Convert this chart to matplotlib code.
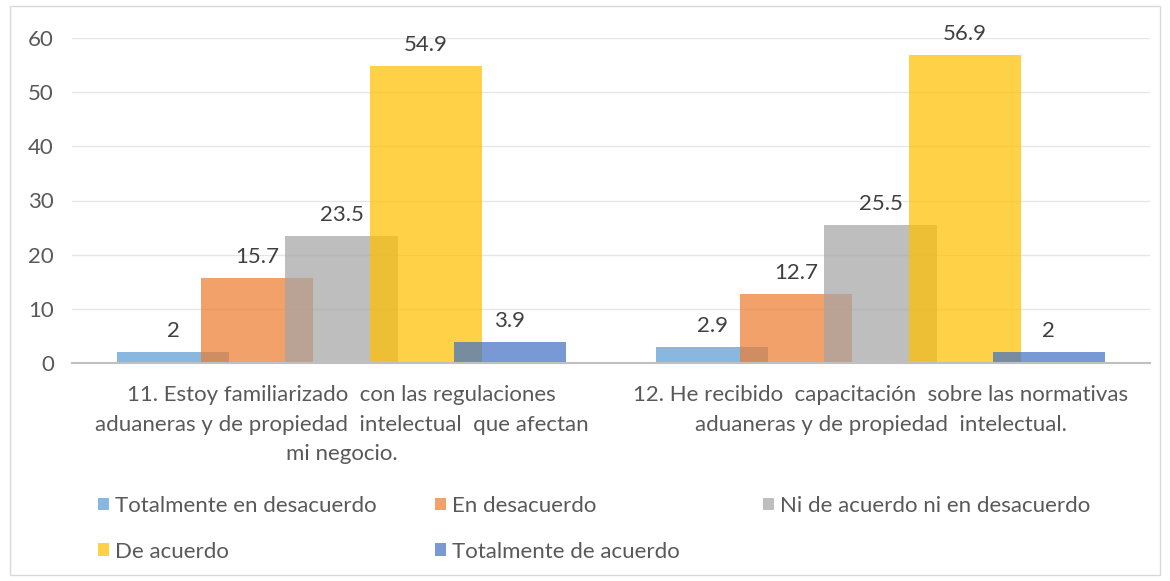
import matplotlib
matplotlib.use("Agg")
import matplotlib.pyplot as plt
from matplotlib.patches import Rectangle
import numpy as np

categories = [
    "11. Estoy familiarizado  con las regulaciones\naduaneras y de propiedad  intelectual  que afectan\nmi negocio.",
    "12. He recibido  capacitación  sobre las normativas\naduaneras y de propiedad  intelectual.",
]
series_names = ["Totalmente en desacuerdo", "En desacuerdo", "Ni de acuerdo ni en desacuerdo",
                "De acuerdo", "Totalmente de acuerdo"]
tot_desacuerdo = [2, 2.9]
en_desacuerdo = [15.7, 12.7]
neutral = [23.5, 25.5]
de_acuerdo = [54.9, 56.9]
tot_acuerdo = [3.9, 2]
labels_vals = [["2", "2.9"], ["15.7", "12.7"], ["23.5", "25.5"], ["54.9", "56.9"], ["3.9", "2"]]
yticks = [0, 10, 20, 30, 40, 50, 60]

colors = ["#5B9BD5", "#ED7D31", "#A5A5A5", "#FFC000", "#4472C4"]
series = [tot_desacuerdo, en_desacuerdo, neutral, de_acuerdo, tot_acuerdo]

plt.rcParams['font.family'] = ['Lato', 'DejaVu Sans']
txt = "#595959"
FS = 16

fig = plt.figure(figsize=(11.7, 5.81), dpi=100)
fig.patches.append(Rectangle((10/1170, 6/581), 1150/1170, 569/581, transform=fig.transFigure,
                             fill=False, edgecolor="#D9D9D9", linewidth=1))
ax = fig.add_axes([72/1170, 1 - 363/581, (1150-72)/1170, (363-38)/581])

x = np.arange(len(categories))
width = 0.208
step = 0.156
handles = []
for i, (vals, c, name) in enumerate(zip(series, colors, series_names)):
    pos = x + (i - 2) * step
    h = ax.bar(pos, vals, width=width, color=c, alpha=0.72, label=name, zorder=2, linewidth=0)
    handles.append(h)
    for p, v, lab in zip(pos, vals, labels_vals[i]):
        ax.text(p, v + 2.0, lab, ha="center", va="bottom", fontsize=FS, color="#404040", zorder=3)

ax.set_xlim(-0.5, 1.5)
ax.set_ylim(0, 60)
ax.set_yticks(yticks)
ax.tick_params(axis="y", length=0, labelsize=FS, labelcolor=txt, pad=13)
ax.tick_params(axis="x", length=0, pad=16)
ax.set_xticks(x)
ax.set_xticklabels(categories, fontsize=FS, color=txt, linespacing=1.6, va="top")
ax.grid(axis="y", color="#E6E6E6", linewidth=1, zorder=0)
for s in ["top", "right", "left"]:
    ax.spines[s].set_visible(False)
ax.spines["bottom"].set_color("#BFBFBF")
ax.spines["bottom"].set_linewidth(1.5)
ax.spines["bottom"].set_zorder(4)

columns = [[0, 3], [1, 4], [2]]
col_x = [98, 435, 763]
for cx, idxs in zip(col_x, columns):
    leg = fig.legend([handles[k] for k in idxs], [series_names[k] for k in idxs],
                     loc="upper left", bbox_to_anchor=(cx/1170, 1 - 496/581), ncol=1, frameon=False,
                     fontsize=FS, handlelength=0.5, handleheight=0.5, handletextpad=0.25,
                     labelspacing=1.15, borderpad=0, borderaxespad=0)
    for t in leg.get_texts():
        t.set_color(txt)

fig.savefig("out.png", dpi=100)
